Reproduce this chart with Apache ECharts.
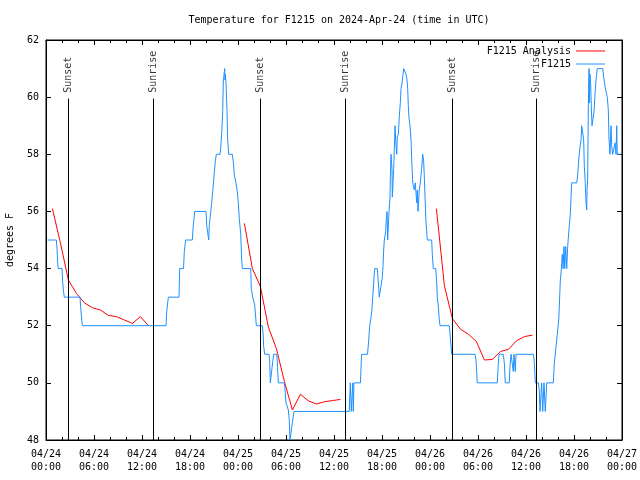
<!DOCTYPE html>
<html>
<head>
<meta charset="utf-8">
<script src="https://cdn.jsdelivr.net/npm/echarts@6/dist/echarts.min.js"></script>
<style>html,body{margin:0;padding:0;background:#fff;}#c{width:640px;height:480px;}</style>
</head>
<body>
<div id="c"></div>
<script>
// Time values are hours since 2024-04-24 00:00 UTC
var xTickLabels = ['04/24\n00:00','04/24\n06:00','04/24\n12:00','04/24\n18:00','04/25\n00:00','04/25\n06:00','04/25\n12:00','04/25\n18:00','04/26\n00:00','04/26\n06:00','04/26\n12:00','04/26\n18:00','04/27\n00:00'];

var obsTimes = [0.19,1.29,1.38,1.46,1.53,2.00,2.09,2.19,2.29,4.25,4.34,4.54,15.00,15.09,15.29,16.63,16.71,17.19,17.29,17.46,18.29,18.41,18.59,20.00,20.09,20.34,20.41,20.59,20.71,20.84,21.00,21.16,21.29,21.75,21.84,21.96,22.09,22.16,22.25,22.34,22.38,22.41,22.50,22.63,22.71,22.84,23.29,23.41,23.54,23.75,23.91,24.04,24.16,24.34,24.46,24.54,25.59,25.66,25.84,26.00,26.09,26.21,26.29,27.04,27.13,27.21,27.34,27.88,27.96,28.04,28.19,28.34,28.46,28.84,28.91,29.04,29.79,29.88,30.00,30.29,30.41,30.50,30.71,30.84,31.00,37.91,38.04,38.16,38.25,38.34,38.41,38.50,39.31,39.44,40.19,40.34,40.46,40.63,40.75,40.84,40.91,41.00,41.09,41.41,41.59,41.66,41.91,42.04,42.13,42.21,42.29,42.46,42.54,42.63,42.71,42.79,42.88,43.00,43.04,43.13,43.25,43.29,43.38,43.46,43.54,43.63,43.75,43.84,43.91,44.04,44.16,44.29,44.38,44.50,44.63,44.71,44.91,45.00,45.13,45.21,45.29,45.38,45.50,45.63,45.75,45.84,46.00,46.04,46.16,46.34,46.41,46.50,46.66,46.79,46.96,47.09,47.21,47.29,47.38,47.50,47.59,47.66,48.21,48.29,48.41,48.71,48.84,48.91,49.04,49.13,49.25,50.41,50.54,50.71,53.63,53.75,53.91,56.41,56.54,56.63,57.16,57.29,57.41,57.91,58.00,58.13,58.34,58.41,58.50,58.59,58.66,58.75,60.91,61.04,61.16,61.54,61.66,61.75,61.88,61.96,62.04,62.09,62.16,62.25,62.34,62.41,62.50,62.59,63.41,63.54,63.66,63.84,63.91,64.09,64.21,64.29,64.41,64.54,64.63,64.75,64.84,64.96,65.09,65.21,65.34,65.41,65.54,65.63,65.71,66.34,66.46,66.59,66.75,66.88,66.96,67.16,67.21,67.29,67.41,67.50,67.59,67.63,67.71,67.79,67.88,67.91,68.00,68.09,68.16,68.25,68.41,68.50,68.66,68.79,68.91,69.59,69.71,69.96,70.16,70.29,70.38,70.50,70.63,70.71,70.84,71.04,71.13,71.25,71.34,71.41,71.84];

var obsTemps = [55,55,54.7,54.2,54,54,53.5,53.2,53,53,52.6,52,52,52.5,53,53,54,54,54.6,55,55,55.5,56,56,55.5,55,55.5,56,56.3,56.7,57.24,57.74,58,58,58.24,58.73,59.5,60.5,60.8,61,60.6,60.8,60.5,59.5,58.5,58,58,57.74,57.27,57,56.7,56.3,55.76,55.2,54.3,54,54,53.3,53,53,52.72,52.3,52,52,51.75,51.27,51,51,50.74,50,50,50.74,51,51,50.74,50,50,49.75,49.3,49.05,48.7,48,48,48.7,49,49,50,49,49,50,49,50,50,51,51,51.5,52,52.3,52.6,53,53.27,53.7,54,54,53.3,53,53,53.7,54.1,54.65,55,55.3,55.76,56,55,55,56,56.5,57.2,58,57.45,56.5,57,57.5,58.2,59,58.3,58,58.6,58.7,59.3,59.8,60.3,60.5,60.8,61,61,60.8,60.6,60.3,59.7,59.25,59,58.5,57.57,57,57,56.75,57,56.3,56.75,56,56.75,57,57.5,58,57.74,57.2,56.5,55.6,55.3,55,55,54.5,54,54,53.5,53,52.7,52.3,52,52,51.6,51,51,50.8,50,50,50.7,51,51,50.7,50,50,50.6,51,51,50.4,51,51,50.4,51,51,50.74,50,50,49.75,49,49,50,50,49,49,50,50,49,49,50,50,50.7,51,51,51.7,52.2,53,53.6,53.95,54.5,54,54.77,54,54.77,54,54.77,54.77,55.5,55.9,56.5,57,57,57.27,57.8,58.27,58.5,59,59,58.5,57.57,57,56.3,56.05,56.75,57.2,59.7,61,59.8,60.8,60.4,59.7,59,59,59.5,60.25,60.7,61,61,60.7,60.25,60,59.55,58.5,58,59,58.3,58,58,58.4,58,59,58,58];

var anaTimes = [0.8,1.8,2.8,3.8,4.8,5.8,6.8,7.8,8.8,9.8,10.8,11.8,12.8,null,24.8,25.8,26.8,27.8,28.8,29.8,30.8,31.8,32.8,33.8,34.8,35.8,36.8,null,48.8,49.8,50.8,51.8,52.8,53.8,54.8,55.8,56.8,57.8,58.8,59.8,60.8];
var anaTemps = [56.1,54.9,53.6,53.13,52.8,52.63,52.55,52.36,52.32,52.2,52.08,52.32,52.0,null,55.58,54.0,53.37,51.95,51.2,50.05,49.05,49.6,49.37,49.26,49.34,49.38,49.42,null,56.1,53.4,52.25,51.88,51.7,51.45,50.8,50.82,51.1,51.17,51.47,51.62,51.67];

var sunTimes = [2.79,13.41,26.79,37.41,50.79,61.33];
var sunNames = ['Sunset','Sunrise','Sunset','Sunrise','Sunset','Sunrise'];

var FONT = 'DejaVu Sans Mono';

function pairs(xs, ys){
  var out = [];
  for (var i = 0; i < xs.length; i++) {
    out.push(xs[i] === null ? [null, null] : [xs[i], ys[i]]);
  }
  return out;
}

var sunLabelData = sunTimes.map(function(t, i){ return {value: [t, 60.15], name: sunNames[i]}; });
var sunLineData = sunTimes.map(function(t){ return [{coord: [t, 48]}, {coord: [t, 59.95]}]; });

var axisCommon = {
  type: 'value', min: 0, max: 72, interval: 6,
  axisLine: {show: true, onZero: false, lineStyle: {color: '#000', width: 1}},
  axisTick: {show: true, inside: true, length: 5, lineStyle: {color: '#000'}},
  minorTick: {show: true, splitNumber: 3, length: 3, lineStyle: {color: '#000'}},
  splitLine: {show: false}
};

var chart = echarts.init(document.getElementById('c'), null, {renderer: 'canvas'});
chart.setOption({
  animation: false,
  backgroundColor: '#fff',
  textStyle: {fontFamily: FONT},
  title: {
    text: 'Temperature for F1215 on 2024-Apr-24 (time in UTC)',
    left: 334, top: 10, textAlign: 'center',
    textStyle: {fontFamily: FONT, fontSize: 10, fontWeight: 'normal', color: '#000'}
  },
  legend: {
    data: [{name: 'F1215 Analysis'}, {name: 'F1215'}],
    orient: 'vertical', align: 'right',
    right: 30, top: 40,
    icon: 'rect',
    itemWidth: 29, itemHeight: 1, itemGap: 1,
    textStyle: {fontFamily: FONT, fontSize: 10, color: '#000', lineHeight: 12}
  },
  grid: {left: 46, right: 18, top: 40, bottom: 40, show: true, borderColor: '#000', borderWidth: 1, backgroundColor: 'transparent', outerBoundsMode: 'none', containLabel: false},
  xAxis: [
    Object.assign({}, axisCommon, {
      position: 'bottom',
      axisLabel: {
        color: '#000', fontFamily: FONT, fontSize: 10, lineHeight: 13, margin: 8,
        formatter: function(v){ return xTickLabels[Math.round(v / 6)]; }
      }
    }),
    Object.assign({}, axisCommon, {position: 'top', axisLabel: {show: false}})
  ],
  yAxis: [
    {
      type: 'value', min: 48, max: 62, interval: 2, position: 'left',
      name: 'degrees F', nameLocation: 'middle', nameGap: 31, nameRotate: 90,
      nameTextStyle: {fontFamily: FONT, fontSize: 10, color: '#000'},
      axisLine: {show: true, onZero: false, lineStyle: {color: '#000'}},
      axisTick: {show: true, inside: true, length: 5, lineStyle: {color: '#000'}},
      axisLabel: {color: '#000', fontFamily: FONT, fontSize: 10, margin: 7},
      splitLine: {show: false}
    },
    {
      type: 'value', min: 48, max: 62, interval: 2, position: 'right',
      axisLine: {show: true, onZero: false, lineStyle: {color: '#000'}},
      axisTick: {show: true, inside: true, length: 5, lineStyle: {color: '#000'}},
      axisLabel: {show: false},
      splitLine: {show: false}
    }
  ],
  series: [
    {
      name: 'F1215 Analysis', type: 'line', data: pairs(anaTimes, anaTemps),
      symbol: 'none', connectNulls: false, z: 3,
      lineStyle: {color: '#ff0000', width: 1}, itemStyle: {color: '#ff0000'}
    },
    {
      name: 'F1215', type: 'line', data: pairs(obsTimes, obsTemps),
      symbol: 'none', z: 4,
      lineStyle: {color: '#1e90ff', width: 1}, itemStyle: {color: '#1e90ff'}
    },
    {
      name: 'sun', type: 'scatter', data: sunLabelData, symbolSize: 0, z: 5,
      label: {
        show: true, position: [0, 0], rotate: 90, align: 'left', verticalAlign: 'middle',
        formatter: function(p){ return p.name; },
        fontFamily: FONT, fontSize: 10, color: '#000'
      },
      markLine: {
        silent: true, symbol: ['none', 'none'],
        label: {show: false},
        lineStyle: {color: '#000', width: 1, type: 'solid'},
        data: sunLineData
      }
    }
  ]
});
</script>
</body>
</html>
